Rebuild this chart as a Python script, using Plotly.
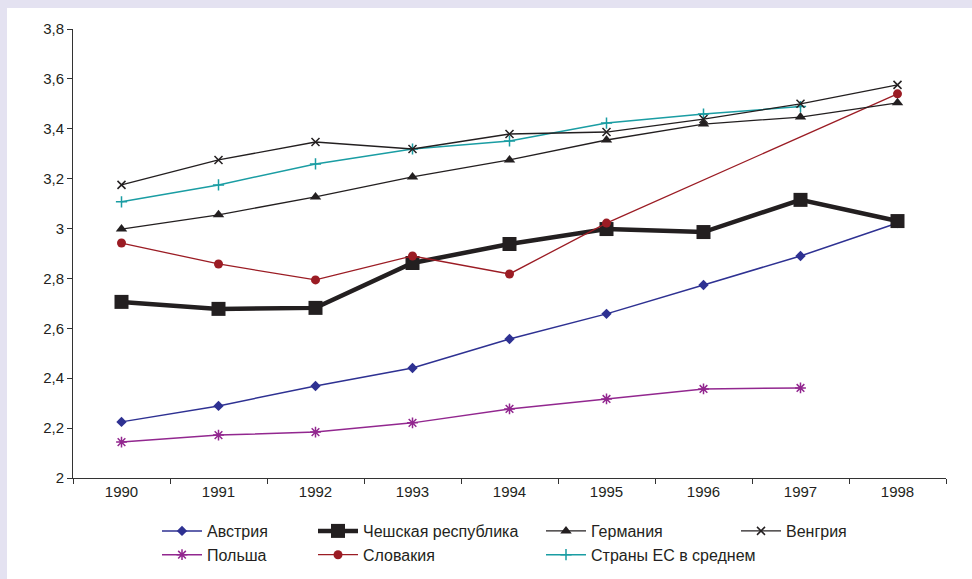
import plotly.graph_objects as go

years = ["1990", "1991", "1992", "1993", "1994", "1995", "1996", "1997", "1998"]

austria = [2.225, 2.289, 2.369, 2.441, 2.557, 2.658, 2.774, 2.890, 3.022]
czech = [2.706, 2.678, 2.682, 2.862, 2.938, 2.998, 2.986, 3.115, 3.030]
germany = [2.998, 3.055, 3.127, 3.207, 3.275, 3.355, 3.419, 3.447, 3.504]
hungary = [3.175, 3.275, 3.347, 3.319, 3.379, 3.387, 3.439, 3.500, 3.576]
poland = [2.144, 2.172, 2.184, 2.221, 2.277, 2.317, 2.357, 2.361, None]
slovakia = [2.942, 2.858, 2.794, 2.890, 2.818, 3.022, None, None, 3.540]
eu_avg = [3.107, 3.175, 3.259, 3.319, 3.351, 3.423, 3.459, 3.489, None]

y_ticks = [2.0, 2.2, 2.4, 2.6, 2.8, 3.0, 3.2, 3.4, 3.6, 3.8]

FONT = "Liberation Sans, Arial, sans-serif"
TXT = "#231f20"

fig = go.Figure()

def add(name, vals, color, symbol, msize, lw, legend, mline=None, connect=False):
    marker = dict(symbol=symbol, size=msize, color=color)
    if mline is not None:
        marker["line"] = dict(color=color, width=mline)
    fig.add_trace(go.Scatter(
        x=years, y=vals, name=name, mode="lines+markers",
        line=dict(color=color, width=lw),
        marker=marker, connectgaps=connect, legend=legend,
    ))

add("Австрия", austria, "#2e3192", "diamond", 8, 1.5, "legend")
add("Польша", poland, "#92278f", "asterisk-open", 9, 1.5, "legend", mline=1.5)
add("Чешская республика", czech, "#231f20", "square", 14, 4.5, "legend2")
add("Словакия", slovakia, "#9b1c24", "circle", 9, 1.3, "legend2", connect=True)
add("Германия", germany, "#231f20", "triangle-up", 10, 1.3, "legend3")
add("Страны ЕС в среднем", eu_avg, "#1a9da3", "cross-thin-open", 8, 1.5, "legend3", mline=1.5)
add("Венгрия", hungary, "#231f20", "x-thin-open", 8, 1.3, "legend4", mline=1.5)

W, H = 972, 579
L, R, T, B = 73, 26, 29, 101
pw = W - L - R
ph = H - T - B

def px_x(px):
    return (px - L) / pw

def px_y(py):
    return (H - B - py) / ph

leg_common = dict(
    orientation="v", xanchor="left", yanchor="top",
    bgcolor="rgba(0,0,0,0)", font=dict(family=FONT, size=16, color=TXT),
    itemwidth=40, tracegroupgap=0,
)

fig.update_layout(
    width=W, height=H,
    margin=dict(l=L, r=R, t=T, b=B, autoexpand=False),
    paper_bgcolor="#e4e2f1",
    plot_bgcolor="white",
    separators=", ",
    font=dict(family=FONT, size=15, color=TXT),
    showlegend=True,
    legend=dict(x=px_x(157), y=px_y(514), **leg_common),
    legend2=dict(x=px_x(313), y=px_y(514), **leg_common),
    legend3=dict(x=px_x(541), y=px_y(514), **leg_common),
    legend4=dict(x=px_x(736), y=px_y(514), **leg_common),
    shapes=[dict(
        type="rect", xref="paper", yref="paper", layer="below",
        x0=px_x(7), x1=px_x(W + 5), y0=px_y(H + 5), y1=px_y(8),
        fillcolor="white", line=dict(width=0),
    )],
)

fig.update_xaxes(
    type="category", range=[-0.5, 8.5], tickson="boundaries",
    ticks="outside", ticklen=5, tickcolor="#333", showline=True,
    linecolor="#333", linewidth=1, showgrid=False, zeroline=False,
    tickfont=dict(family=FONT, size=15, color=TXT),
)
fig.update_yaxes(
    range=[2, 3.8], tickvals=y_ticks, ticks="outside", ticklen=5,
    tickcolor="#333", showline=True, linecolor="#333", linewidth=1,
    showgrid=False, zeroline=False,
    tickfont=dict(family=FONT, size=15, color=TXT),
)

fig.write_html("out.html")
